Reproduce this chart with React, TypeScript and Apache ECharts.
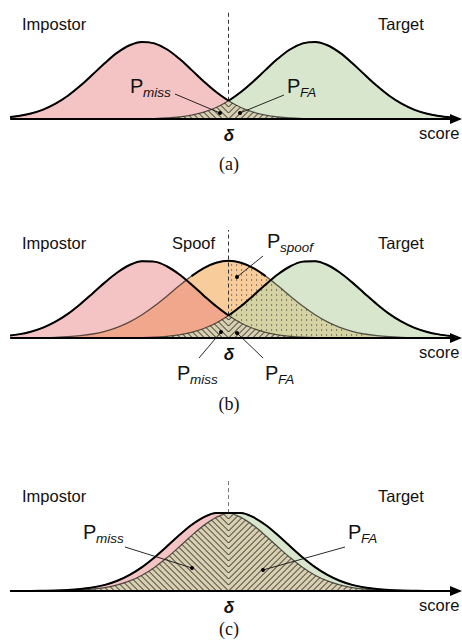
import React, { useEffect, useRef } from 'react';
import * as echarts from 'echarts';

// ---------------- data ----------------
const scoreX = [-4.5, -4.25, -4, -3.75, -3.5, -3.25, -3, -2.75, -2.5, -2.25, -2, -1.75, -1.5, -1.25, -1, -0.75, -0.5, -0.25, 0, 0.25, 0.5, 0.75, 1, 1.25, 1.5, 1.75, 2, 2.25, 2.5, 2.75, 3, 3.25, 3.5, 3.75, 4, 4.25, 4.5];
const DELTA = 0;

// panel (a)
const impostorA = [0.02, 0.039, 0.071, 0.122, 0.198, 0.301, 0.43, 0.576, 0.726, 0.86, 0.956, 0.999, 0.98, 0.904, 0.783, 0.637, 0.487, 0.35, 0.236, 0.149, 0.089, 0.05, 0.026, 0.013, 0.006, 0.003, 0.001, 0, 0, 0, 0, 0, 0, 0, 0, 0, 0];
const targetA = [0, 0, 0, 0, 0, 0, 0, 0, 0, 0, 0.001, 0.003, 0.006, 0.013, 0.026, 0.05, 0.089, 0.149, 0.236, 0.35, 0.487, 0.637, 0.783, 0.904, 0.98, 0.999, 0.956, 0.86, 0.726, 0.576, 0.43, 0.301, 0.198, 0.122, 0.071, 0.039, 0.02];

// panel (b)
const impostorB = [0.025, 0.047, 0.082, 0.135, 0.212, 0.313, 0.438, 0.578, 0.721, 0.849, 0.946, 0.996, 0.99, 0.93, 0.826, 0.693, 0.549, 0.411, 0.291, 0.195, 0.123, 0.073, 0.041, 0.022, 0.011, 0.005, 0.002, 0.001, 0, 0, 0, 0, 0, 0, 0, 0, 0];
const spoofB = [0, 0.001, 0.002, 0.004, 0.008, 0.016, 0.03, 0.052, 0.087, 0.138, 0.209, 0.301, 0.414, 0.542, 0.676, 0.802, 0.907, 0.976, 1, 0.976, 0.907, 0.802, 0.676, 0.542, 0.414, 0.301, 0.209, 0.138, 0.087, 0.052, 0.03, 0.016, 0.008, 0.004, 0.002, 0.001, 0];
const targetB = [0, 0, 0, 0, 0, 0, 0, 0, 0, 0.001, 0.002, 0.005, 0.011, 0.022, 0.041, 0.073, 0.123, 0.195, 0.291, 0.411, 0.549, 0.693, 0.826, 0.93, 0.99, 0.996, 0.946, 0.849, 0.721, 0.578, 0.438, 0.313, 0.212, 0.135, 0.082, 0.047, 0.025];

// panel (c)
const impostorC = [0, 0.001, 0.001, 0.003, 0.006, 0.012, 0.024, 0.045, 0.078, 0.13, 0.205, 0.304, 0.427, 0.566, 0.709, 0.84, 0.94, 0.994, 0.992, 0.937, 0.835, 0.704, 0.56, 0.422, 0.3, 0.201, 0.128, 0.077, 0.043, 0.023, 0.012, 0.006, 0.003, 0.001, 0.001, 0, 0];
const targetC = [0, 0, 0.001, 0.001, 0.003, 0.006, 0.012, 0.023, 0.043, 0.077, 0.128, 0.201, 0.3, 0.422, 0.56, 0.704, 0.835, 0.937, 0.992, 0.994, 0.94, 0.84, 0.709, 0.566, 0.427, 0.304, 0.205, 0.13, 0.078, 0.045, 0.024, 0.012, 0.006, 0.003, 0.001, 0.001, 0];

const classLabels = ['Impostor', 'Spoof', 'Target'];
const panelLabels = ['(a)', '(b)', '(c)'];
const axisName = 'score';
const thresholdLabel = 'δ';

// ---------------- styling ----------------
const FONT = '"Liberation Sans", Arial, Helvetica, sans-serif';
const SERIF = '"Liberation Serif", "Times New Roman", serif';
const PINK = '#f4c3c3';
const PINK_T = 'rgba(231,122,122,0.45)';
const GREEN = '#d7e6cd';
const TAN = '#d8ceb0';
const ORANGE = '#f9cc9c';
const GREEN_T = 'rgba(188,213,170,0.6)';
const INNER = 'rgba(0,0,0,0.62)';
const HATCH = '#1e1e1e';
const SMOOTH = 0.35;

const mid = scoreX.indexOf(DELTA);
const last = scoreX.length - 1;

const pairs = (ys: number[], from = 0, to = last) =>
  scoreX.slice(from, to + 1).map((x, i) => [x, ys[from + i]]);

function interpTop(pts: number[][], x: number, by: number) {
  const n = pts.length;
  const lo = Math.min(pts[0][0], pts[n - 1][0]);
  const hi = Math.max(pts[0][0], pts[n - 1][0]);
  if (x < lo || x > hi) return by;
  for (let i = 1; i < n; i++) {
    const [x0, y0] = pts[i - 1];
    const [x1, y1] = pts[i];
    if ((x - x0) * (x - x1) <= 0) {
      const t = x1 === x0 ? 0 : (x - x0) / (x1 - x0);
      return y0 + t * (y1 - y0);
    }
  }
  return by;
}

function hatchSegments(L: number[][], R: number[][], base: number[], s: number) {
  const [dx, by] = base;
  const segs: number[][][] = [];
  const minTop = Math.min(...L.map((p) => p[1]), ...R.map((p) => p[1]));
  const kTop = Math.ceil((by - minTop) / s) + 1;
  const sides: [number[][], number][] = [[L, -1], [R, 1]];
  sides.forEach(([pts, dir]) => {
    const extent = Math.max(...pts.map((p) => Math.abs(p[0] - dx)));
    const kBottom = -Math.ceil(extent / s);
    for (let k = kBottom; k <= kTop; k++) {
      const y0 = by - k * s;
      let t = Math.max(0, y0 - by);
      let start: number[] | null = null;
      let end: number[] | null = null;
      while (t <= extent) {
        const x = dx + dir * t;
        const y = y0 - t;
        const top = interpTop(pts, x, by);
        if (y >= top && y <= by + 0.01) {
          if (!start) start = [x, y];
          end = [x, y];
        } else if (start) break;
        t += 0.25;
      }
      if (start && end && Math.hypot(end[0] - start[0], end[1] - start[1]) > 0.6) segs.push([start, end]);
    }
  });
  return segs;
}

const areaS = (g: number, data: number[][], color: string, z: number) => ({
  type: 'line', xAxisIndex: g, yAxisIndex: g, data, smooth: SMOOTH, symbol: 'none',
  lineStyle: { width: 0, opacity: 0 }, areaStyle: { color, opacity: 1 }, z, silent: true,
});
const lineS = (g: number, data: number[][], color: string, width: number, z: number, extra: any = {}) => ({
  type: 'line', xAxisIndex: g, yAxisIndex: g, data, smooth: SMOOTH, symbol: 'none',
  lineStyle: { color, width }, z, silent: true, ...extra,
});
const dashed = (yFrom: number, color: string) => ({
  markLine: {
    silent: true, symbol: 'none', label: { show: false },
    lineStyle: { color, width: 1, type: [4, 3] },
    data: [[{ coord: [DELTA, yFrom] }, { coord: [DELTA, 1.4] }]],
  },
});
const hatchS = (g: number, leftTop: number[], rightTop: number[]) => ({
  type: 'custom', xAxisIndex: g, yAxisIndex: g, data: [[0, 0]], z: 4, silent: true,
  renderItem: (_p: any, api: any) => {
    const L = scoreX.slice(0, mid + 1).map((x, i) => api.coord([x, leftTop[i]]));
    const R = scoreX.slice(mid).map((x, i) => api.coord([x, rightTop[mid + i]]));
    const base = api.coord([DELTA, 0]);
    return {
      type: 'group',
      children: hatchSegments(L, R, base, 6).map(([a, b]) => ({
        type: 'line', shape: { x1: a[0], y1: a[1], x2: b[0], y2: b[1] },
        style: { stroke: HATCH, lineWidth: 0.95 },
      })),
    };
  },
});
const dotsS = (g: number, upper: number[], lower: number[]) => ({
  type: 'custom', xAxisIndex: g, yAxisIndex: g, data: [[0, 0]], z: 4, silent: true,
  renderItem: (_p: any, api: any) => {
    const S = scoreX.slice(mid).map((x, i) => api.coord([x, upper[mid + i]]));
    const H = scoreX.slice(mid).map((x, i) => api.coord([x, lower[mid + i]]));
    const [dx, by] = api.coord([DELTA, 0]);
    const children: any[] = [];
    for (let x = dx + 3; x < S[S.length - 1][0]; x += 5) {
      const sTop = interpTop(S, x, by);
      const hTop = interpTop(H, x, by);
      for (let y = by - 3; y > sTop + 1; y -= 5) {
        if (y < hTop - 1) children.push({ type: 'rect', shape: { x: x - 0.55, y: y - 0.55, width: 1.1, height: 1.1 }, style: { fill: '#333' } });
      }
    }
    return { type: 'group', children };
  },
});

function buildTwoClass(g: number, imp: number[], tgt: number[], dashColor: string) {
  return [
    areaS(g, pairs(imp), PINK, 2),
    areaS(g, pairs(tgt), GREEN, 2),
    areaS(g, pairs(tgt, 0, mid), TAN, 3),
    areaS(g, pairs(imp, mid, last), TAN, 3),
    hatchS(g, tgt, imp),
    lineS(g, pairs(imp), INNER, 1.3, 5),
    lineS(g, pairs(tgt), INNER, 1.3, 5),
    lineS(g, pairs(imp, 0, mid), '#000', 2, 6, dashed(Math.min(imp[mid], tgt[mid]), dashColor)),
    lineS(g, pairs(tgt, mid, last), '#000', 2, 6),
  ];
}

function buildThreeClass(g: number) {
  const top = scoreX.map((_, i) => spoofB[i] >= impostorB[i] && spoofB[i] >= targetB[i]);
  const s0 = top.indexOf(true);
  const s1 = top.lastIndexOf(true);
  return [
    areaS(g, pairs(spoofB), ORANGE, 2),
    areaS(g, pairs(impostorB), PINK_T, 2),
    areaS(g, pairs(targetB), GREEN_T, 2),
    areaS(g, pairs(targetB, 0, mid), TAN, 3),
    areaS(g, pairs(impostorB, mid, last), TAN, 3),
    hatchS(g, targetB, impostorB),
    dotsS(g, spoofB, impostorB),
    lineS(g, pairs(impostorB), INNER, 1.3, 5),
    lineS(g, pairs(spoofB), INNER, 1.3, 5),
    lineS(g, pairs(targetB), INNER, 1.3, 5),
    lineS(g, pairs(impostorB, 0, mid), '#000', 2, 6, dashed(Math.min(impostorB[mid], targetB[mid]), '#333')),
    lineS(g, pairs(spoofB, s0, s1), '#000', 2, 6),
    lineS(g, pairs(targetB, mid, last), '#000', 2, 6),
  ];
}

// ---------------- annotations ----------------
const txt = (text: string, x: number, y: number, o: any = {}) => ({
  type: 'text', x, y, z: 100, silent: true,
  style: {
    text, fill: '#111', fontFamily: o.family || FONT, fontSize: o.size || 16.5,
    fontStyle: o.style || 'normal', fontWeight: o.weight || 'normal',
    align: o.align || 'left', textAlign: o.align || 'left',
    verticalAlign: 'middle', textVerticalAlign: 'middle',
  },
});
const leader = (x1: number, y1: number, x2: number, y2: number) => [
  { type: 'line', z: 100, silent: true, shape: { x1, y1, x2, y2 }, style: { stroke: '#111', lineWidth: 0.9 } },
  { type: 'circle', z: 101, silent: true, shape: { cx: x2, cy: y2, r: 2 }, style: { fill: '#000' } },
];
const prob = (sub: string, x: number, baseY: number) => [
  txt('P', x, baseY - 7, { size: 20 }),
  txt(sub, x + 13, baseY - 0.5, { size: 13.5, style: 'italic' }),
];

function annotations() {
  const panelTexts = (yTop: number, axisY: number, labelY: number, panel: string) => [
    txt(axisName, 419, axisY + 14),
    txt(thresholdLabel, 229, axisY + 16.5, { align: 'center', weight: 'bold', style: 'italic', size: 17 }),
    txt(panel, 229, labelY, { align: 'center', family: SERIF, size: 18 }),
    txt(classLabels[0], 22, yTop),
    txt(classLabels[2], 378, yTop),
  ];
  return [
    ...panelTexts(24, 119, 163.5, panelLabels[0]),
    ...prob('miss', 130, 93),
    ...prob('FA', 287, 93),
    ...leader(175, 94, 220, 113),
    ...leader(284, 95, 240, 113),

    ...panelTexts(243, 338, 404, panelLabels[1]),
    txt(classLabels[1], 172, 243),
    ...prob('spoof', 267, 248),
    ...prob('miss', 177, 380),
    ...prob('FA', 265, 380),
    ...leader(263, 256, 237, 277),
    ...leader(199, 358, 221, 332),
    ...leader(263, 358, 237, 333),

    ...panelTexts(496, 591, 629, panelLabels[2]),
    ...prob('miss', 83, 539),
    ...prob('FA', 348, 539),
    ...leader(125, 547, 192, 568),
    ...leader(345, 547, 263, 570),
  ];
}

const gridDefs = [
  { left: 11, width: 445, top: 11, height: 108 },
  { left: 11, width: 445, top: 230, height: 108 },
  { left: 11, width: 445, top: 481, height: 110 },
];

export default function App() {
  const ref = useRef<HTMLDivElement>(null);
  useEffect(() => {
    if (!ref.current) return;
    const chart = echarts.init(ref.current, undefined, { renderer: 'svg' });
    const xAxis = gridDefs.map((_, i) => ({
      type: 'value', gridIndex: i, min: -4.4, max: 4.6, z: 9,
      axisLine: { show: true, symbol: ['none', 'triangle'], symbolSize: [10, 12], lineStyle: { color: '#000', width: 2 } },
      axisTick: { show: false }, axisLabel: { show: false }, splitLine: { show: false },
    }));
    const yAxis = gridDefs.map((_, i) => ({
      type: 'value', gridIndex: i, min: 0, max: 1.4, show: false, splitLine: { show: false },
    }));
    chart.setOption({
      animation: false,
      grid: gridDefs.map((g) => ({ ...g, containLabel: false })),
      xAxis,
      yAxis,
      series: [
        ...buildTwoClass(0, impostorA, targetA, '#333'),
        ...buildThreeClass(1),
        ...buildTwoClass(2, impostorC, targetC, '#777'),
      ],
      graphic: { elements: annotations() },
    } as any);
    return () => chart.dispose();
  }, []);
  return (
    <div
      ref={ref}
      style={{ position: 'absolute', left: 0, top: 0, width: 462, height: 643, background: '#fff' }}
    />
  );
}
